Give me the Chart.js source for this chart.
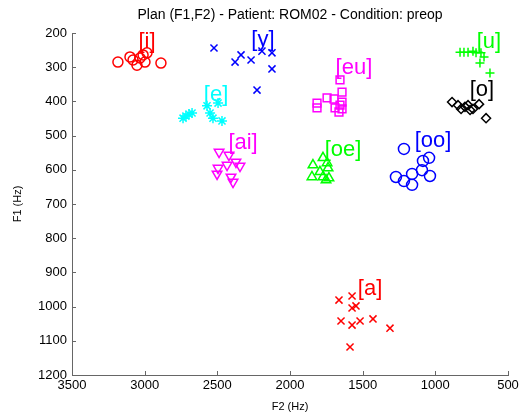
<!DOCTYPE html>
<html>
<head>
<meta charset="utf-8">
<script src="https://cdn.jsdelivr.net/npm/chart.js@4/dist/chart.umd.min.js"></script>
<style>
  html, body { margin: 0; padding: 0; background: #fff; }
  #wrap { width: 523px; height: 418px; }
</style>
</head>
<body>
<div id="wrap"><canvas id="c" width="523" height="418"></canvas></div>
<script>
// ---- Data (F2 = x, F1 = y, in Hz) ----
const vowels = ['[i]', '[y]', '[e]', '[ai]', '[eu]', '[oe]', '[oo]', '[u]', '[o]', '[a]'];

const iF2  = [3184, 3101, 3080, 3053, 3011, 2984, 2998, 2888, 3032];
const iF1  = [285, 270, 279, 294, 264, 258, 285, 288, 273];

const yF2  = [2523, 2378, 2337, 2268, 2193, 2124, 2124, 2227];
const yF1  = [244, 285, 264, 279, 253, 258, 305, 367];

const eF2  = [2736, 2716, 2695, 2674, 2571, 2550, 2530, 2495, 2468];
const eF1  = [449, 443, 437, 434, 413, 434, 449, 405, 457];

const aiF2 = [2488, 2420, 2372, 2433, 2344, 2495, 2502, 2406, 2392];
const aiF1 = [548, 557, 577, 586, 589, 595, 612, 621, 636];

const euF2 = [1656, 1642, 1745, 1697, 1642, 1814, 1656, 1690, 1814, 1642, 1663];
const euF1 = [337, 373, 390, 393, 402, 405, 411, 419, 419, 422, 431];

const oeF2 = [1842, 1773, 1745, 1738, 1849, 1794, 1773, 1732, 1752];
const oeF1 = [586, 565, 580, 595, 621, 606, 621, 624, 630];

const ooF2 = [1216, 1085, 1043, 1092, 1271, 1160, 1216, 1160, 1037];
const ooF1 = [539, 574, 565, 601, 621, 612, 633, 644, 618];

const uF2  = [830, 803, 775, 741, 720, 686, 665, 693, 624];
const uF1  = [256, 256, 256, 253, 258, 258, 270, 288, 317];

const oF2  = [885, 844, 823, 796, 775, 741, 699, 651, 761];
const oF1  = [402, 411, 422, 416, 411, 422, 408, 449, 425];

const aF2  = [1663, 1573, 1573, 1546, 1649, 1573, 1518, 1429, 1312, 1587];
const aF1  = [981, 969, 1004, 998, 1042, 1054, 1042, 1036, 1063, 1118];

// label anchors (data coordinates)
const labelF2 = [2984, 2186, 2509, 2323, 1560, 1635, 1016, 631, 679, 1449];
const labelF1 = [226, 220, 381, 522, 302, 542, 516, 226, 367, 949];

// axis ticks
const xTicks = [3500, 3000, 2500, 2000, 1500, 1000, 500];
const yTicks = [200, 300, 400, 500, 600, 700, 800, 900, 1000, 1100, 1200];

const titleText = 'Plan (F1,F2) - Patient: ROM02 - Condition: preop';

const colors = ['#ff0000', '#0000ff', '#00ffff', '#ff00ff', '#ff00ff', '#00ff00', '#0000ff', '#00ff00', '#000000', '#ff0000'];
const styles = ['circle', 'crossRot', 'star', 'triangle', 'rect', 'triangle', 'circle', 'cross', 'rectRot', 'crossRot'];
const rotations = [0, 0, 0, 180, 0, 0, 0, 0, 0, 0];
const radii = [5, 5, 5, 5.5, 5.5, 5.5, 5.5, 4.5, 4.5, 5];

const seriesF2 = [iF2, yF2, eF2, aiF2, euF2, oeF2, ooF2, uF2, oF2, aF2];
const seriesF1 = [iF1, yF1, eF1, aiF1, euF1, oeF1, ooF1, uF1, oF1, aF1];

const datasets = vowels.map((v, k) => ({
  label: v,
  data: seriesF2[k].map((x, j) => ({ x: x, y: seriesF1[k][j] })),
  pointStyle: styles[k],
  rotation: rotations[k],
  pointRadius: radii[k],
  pointHoverRadius: radii[k],
  borderColor: colors[k],
  backgroundColor: 'rgba(0,0,0,0)',
  pointBorderWidth: 1.5,
  showLine: false
}));

const FONT = "'Liberation Sans', Arial, Helvetica, sans-serif";

const decor = {
  id: 'decor',
  afterDraw(chart) {
    const ctx = chart.ctx;
    const xs = chart.scales.x, ys = chart.scales.y;
    const area = chart.chartArea;
    ctx.save();
    // inward tick marks
    ctx.strokeStyle = '#666';
    ctx.lineWidth = 1;
    ctx.beginPath();
    xTicks.forEach(t => {
      const px = Math.round(xs.getPixelForValue(t)) + 0.5;
      ctx.moveTo(px, area.bottom);
      ctx.lineTo(px, area.bottom - 4);
    });
    yTicks.forEach(t => {
      const py = Math.round(ys.getPixelForValue(t)) + 0.5;
      ctx.moveTo(area.left, py);
      ctx.lineTo(area.left + 4, py);
    });
    ctx.stroke();
    // title centred over the plot area
    ctx.fillStyle = '#000';
    ctx.font = '14px ' + FONT;
    ctx.textAlign = 'center';
    ctx.textBaseline = 'middle';
    ctx.fillText(titleText, (area.left + area.right) / 2, 15);
    // vowel labels
    ctx.font = '22px ' + FONT;
    vowels.forEach((v, k) => {
      ctx.fillStyle = colors[k];
      ctx.fillText(v, xs.getPixelForValue(labelF2[k]), ys.getPixelForValue(labelF1[k]));
    });
    ctx.restore();
  }
};

new Chart(document.getElementById('c'), {
  type: 'scatter',
  data: { datasets },
  options: {
    responsive: false,
    animation: false,
    events: [],
    layout: { padding: { left: 0, right: 15, top: 33, bottom: 0 } },
    plugins: {
      legend: { display: false },
      tooltip: { enabled: false },
      title: { display: false }
    },
    scales: {
      x: {
        type: 'linear',
        reverse: true,
        min: 500,
        max: 3500,
        afterBuildTicks(scale) { scale.ticks = xTicks.map(v => ({ value: v })); },
        afterFit(scale) { scale.height = 43; },
        ticks: {
          autoSkip: false,
          maxRotation: 0,
          padding: 3,
          color: '#000',
          font: { family: FONT, size: 13 },
          callback: v => String(v)
        },
        grid: { display: true, drawOnChartArea: false, drawTicks: false },
        border: { display: true, color: '#666', width: 1 },
        title: {
          display: true,
          text: 'F2 (Hz)',
          color: '#000',
          font: { family: FONT, size: 11, lineHeight: 1.2 },
          padding: { top: 0, bottom: 4.4 }
        }
      },
      y: {
        type: 'linear',
        reverse: true,
        min: 200,
        max: 1200,
        afterBuildTicks(scale) { scale.ticks = yTicks.map(v => ({ value: v })); },
        afterFit(scale) { scale.width = 72; },
        ticks: {
          autoSkip: false,
          padding: 5,
          color: '#000',
          font: { family: FONT, size: 13 },
          callback: v => String(v)
        },
        grid: { display: true, drawOnChartArea: false, drawTicks: false },
        border: { display: true, color: '#666', width: 1 },
        title: {
          display: true,
          text: 'F1 (Hz)',
          color: '#000',
          font: { family: FONT, size: 11, lineHeight: 1.2 },
          padding: { top: 11.4, bottom: 0 }
        }
      }
    }
  },
  plugins: [decor]
});
</script>
</body>
</html>
